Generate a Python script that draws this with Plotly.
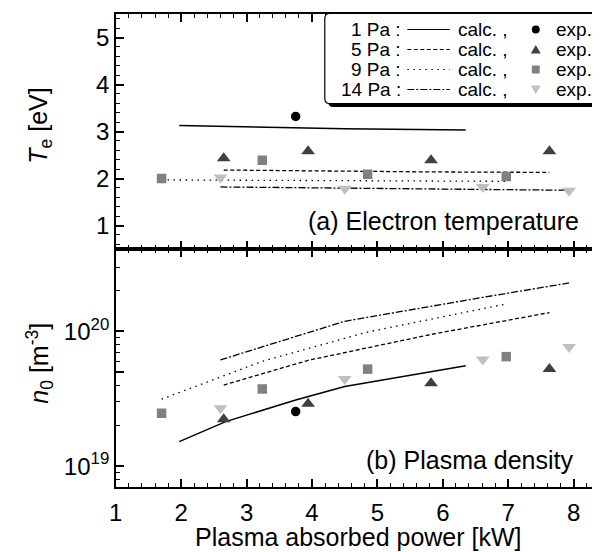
import plotly.graph_objects as go

# ---------------- data ----------------
P_1pa_exp = [3.75]
Te_1pa_exp = [3.32]
n_1pa_exp = [2.54e19]

P_5pa_exp = [2.65, 3.94, 5.82, 7.63]
Te_5pa_exp = [2.43, 2.58, 2.39, 2.58]
n_5pa_exp = [2.23e19, 2.90e19, 4.13e19, 5.25e19]

P_9pa_exp = [1.70, 3.24, 4.85, 6.97]
Te_9pa_exp = [2.00, 2.39, 2.09, 2.04]
n_9pa_exp = [2.47e19, 3.74e19, 5.25e19, 6.50e19]

P_14pa_exp = [2.60, 4.50, 6.61, 7.93]
Te_14pa_exp = [2.02, 1.78, 1.82, 1.74]
n_14pa_exp = [2.69e19, 4.43e19, 6.20e19, 7.66e19]

P_1pa_calc = [1.97, 2.68, 3.75, 4.50, 6.35]
Te_1pa_calc = [3.13, 3.11, 3.08, 3.06, 3.03]
n_1pa_calc = [1.52e19, 2.14e19, 3.10e19, 3.90e19, 5.56e19]

P_5pa_calc = [2.65, 3.94, 5.82, 7.63]
Te_5pa_calc = [2.18, 2.16, 2.14, 2.13]
n_5pa_calc = [4.0e19, 6.1e19, 9.5e19, 1.38e20]

P_9pa_calc = [1.70, 3.24, 4.85, 6.97]
Te_9pa_calc = [1.97, 1.96, 1.95, 1.94]
n_9pa_calc = [3.14e19, 6.0e19, 9.9e19, 1.60e20]

P_14pa_calc = [2.60, 4.50, 6.61, 7.93]
Te_14pa_calc = [1.82, 1.79, 1.77, 1.75]
n_14pa_calc = [6.15e19, 1.19e20, 1.79e20, 2.29e20]

pressures = ["1 Pa :", "5 Pa :", "9 Pa :", "14 Pa :"]
x_ticks = [1, 2, 3, 4, 5, 6, 7, 8]
te_ticks = [1, 2, 3, 4, 5]
n_ticks = [1e19, 1e20]
n_ticktext = ["10<sup>19</sup>", "10<sup>20</sup>"]
n_mid_tick = [5e19]
n_minor = [8e18, 9e18, 2e19, 3e19, 4e19, 6e19, 7e19, 8e19, 9e19, 2e20, 3e20, 4e20]

# ---------------- styling ----------------
# the page body has an 8px margin, so the figure is sized to end at the window edge
OFF = 8
W, H = 600 - OFF, 552 - OFF
FONT = "Liberation Sans, Arial, sans-serif"
BIG = 25
TICK = 24
LEG = 19

def fx(px):
    return (px - OFF) / W

def fy(py):
    return 1 - (py - OFF) / H

X0, X1 = 110, 600
Y_TOP, Y_MID, Y_BOT = 14, 249, 487

calc_styles = [
    dict(color="black", width=1.5, dash="solid"),
    dict(color="black", width=1.3, dash="4px,2.5px"),
    dict(color="black", width=1.3, dash="1.5px,4.5px"),
    dict(color="black", width=1.3, dash="7px,2px,2px,2px"),
]
exp_markers = [
    dict(symbol="circle", size=9.5, color="black"),
    dict(symbol="triangle-up", size=12, color="#404040"),
    dict(symbol="square", size=9.5, color="#808080"),
    dict(symbol="triangle-down", size=12, color="#c0c0c0"),
]

calc_sets = [
    (P_1pa_calc, Te_1pa_calc, n_1pa_calc),
    (P_5pa_calc, Te_5pa_calc, n_5pa_calc),
    (P_9pa_calc, Te_9pa_calc, n_9pa_calc),
    (P_14pa_calc, Te_14pa_calc, n_14pa_calc),
]
exp_sets = [
    (P_1pa_exp, Te_1pa_exp, n_1pa_exp),
    (P_5pa_exp, Te_5pa_exp, n_5pa_exp),
    (P_9pa_exp, Te_9pa_exp, n_9pa_exp),
    (P_14pa_exp, Te_14pa_exp, n_14pa_exp),
]

fig = go.Figure()
for (p, te, n), st in zip(calc_sets, calc_styles):
    fig.add_trace(go.Scatter(x=p, y=te, mode="lines", line=st, xaxis="x", yaxis="y",
                             showlegend=False, hoverinfo="skip"))
    fig.add_trace(go.Scatter(x=p, y=n, mode="lines", line=st, xaxis="x2", yaxis="y2",
                             showlegend=False, hoverinfo="skip"))
for (p, te, n), mk in zip(exp_sets, exp_markers):
    m = dict(symbol=mk["symbol"], size=mk["size"], color=mk["color"], line=dict(width=0))
    fig.add_trace(go.Scatter(x=p, y=te, mode="markers", marker=m, xaxis="x", yaxis="y",
                             showlegend=False))
    fig.add_trace(go.Scatter(x=p, y=n, mode="markers", marker=m, xaxis="x2", yaxis="y2",
                             showlegend=False))
# helper traces so the extra tick-only axes are drawn
fig.add_trace(go.Scatter(x=[None], y=[None], xaxis="x", yaxis="y3", showlegend=False))
fig.add_trace(go.Scatter(x=[None], y=[None], xaxis="x2", yaxis="y4", showlegend=False))
fig.add_trace(go.Scatter(x=[None], y=[None], xaxis="x2", yaxis="y5", showlegend=False))

x_range = [1, 1 + (X1 - X0) / 66.19]
n_range = [18.845, 20.612]
dom_x = [fx(X0), fx(X1)]
dom_top = [fy(Y_MID), fy(Y_TOP)]
dom_bot = [fy(Y_BOT), fy(Y_MID)]

axis_common = dict(showline=True, linecolor="black", linewidth=1.5, ticks="inside",
                   ticklen=8, tickwidth=1.5, tickcolor="black", showgrid=False,
                   zeroline=False, tickfont=dict(family=FONT, size=TICK, color="black"))
minor_x = dict(dtick=0.2, ticks="inside", ticklen=4, tickwidth=1.2, tickcolor="black", showgrid=False)

fig.update_layout(
    width=W, height=H,
    margin=dict(l=0, r=0, t=0, b=0),
    paper_bgcolor="white", plot_bgcolor="white",
    font=dict(family=FONT, color="black"),
    xaxis=dict(domain=dom_x, anchor="y", range=x_range, tickvals=x_ticks, showticklabels=False,
               mirror="ticks", minor=minor_x, **axis_common),
    xaxis2=dict(domain=dom_x, anchor="y2", range=x_range, tickvals=x_ticks, mirror="ticks",
                minor=minor_x, ticklabelstandoff=3, **axis_common),
    yaxis=dict(domain=dom_top, anchor="x", range=[0.5, 5.5], tickvals=te_ticks,
               minor=dict(dtick=0.2, ticks="inside", ticklen=4, tickwidth=1.2, tickcolor="black"),
               **axis_common),
    yaxis2=dict(domain=dom_bot, anchor="x2", type="log", range=n_range,
                tickvals=n_ticks, ticktext=n_ticktext,
                minor=dict(tickvals=n_minor, ticks="inside", ticklen=4, tickwidth=1.2, tickcolor="black"),
                **axis_common),
    yaxis3=dict(overlaying="y", side="right", anchor="x", range=[0.5, 5.5], tickvals=te_ticks,
                showticklabels=False, **axis_common),
    yaxis4=dict(overlaying="y2", side="right", anchor="x2", type="log", range=n_range,
                tickvals=n_ticks + n_mid_tick, showticklabels=False, **axis_common),
    yaxis5=dict(overlaying="y2", side="left", anchor="x2", type="log", range=n_range,
                tickvals=n_mid_tick, showticklabels=False, **axis_common),
)

annotations = []
# axis titles
annotations.append(dict(text="Plasma absorbed power [kW]", x=fx(356), y=fy(537), xref="paper", yref="paper",
                        showarrow=False, xanchor="center", yanchor="middle", font=dict(size=BIG)))
annotations.append(dict(text="<i>T</i><sub>e</sub> [eV]", x=fx(33), y=fy(126), xref="paper", yref="paper",
                        showarrow=False, textangle=-90, xanchor="center", yanchor="middle", font=dict(size=BIG)))
annotations.append(dict(text="<i>n</i><sub>0</sub> [m<sup>-3</sup>]", x=fx(33), y=fy(363), xref="paper",
                        yref="paper", showarrow=False, textangle=-90, xanchor="center", yanchor="middle",
                        font=dict(size=BIG)))
# panel labels
annotations.append(dict(text="(a) Electron temperature", x=fx(581), y=fy(221), xref="paper", yref="paper",
                        showarrow=False, xanchor="right", yanchor="middle", font=dict(size=BIG)))
annotations.append(dict(text="(b) Plasma density", x=fx(576), y=fy(460), xref="paper", yref="paper",
                        showarrow=False, xanchor="right", yanchor="middle", font=dict(size=BIG)))

# ---------------- custom legend ----------------
shapes = []
BX0, BY0, BX1, BY1, R = 321.5, 13.5, 599.3, 103.5, 5

def rrect(x0, y0, x1, y1, r):
    def p(a, b):
        return f"{fx(a):.5f},{fy(b):.5f}"
    return (f"M {p(x0 + r, y0)} L {p(x1 - r, y0)} Q {p(x1, y0)} {p(x1, y0 + r)} "
            f"L {p(x1, y1 - r)} Q {p(x1, y1)} {p(x1 - r, y1)} L {p(x0 + r, y1)} "
            f"Q {p(x0, y1)} {p(x0, y1 - r)} L {p(x0, y0 + r)} Q {p(x0, y0)} {p(x0 + r, y0)} Z")

shapes.append(dict(type="path", xref="paper", yref="paper", path=rrect(BX0 + 3.5, BY0 + 3.5, BX1 + 3.5, BY1 + 3.5, R),
                   fillcolor="black", line=dict(width=0), layer="above"))
shapes.append(dict(type="path", xref="paper", yref="paper", path=rrect(BX0, BY0, BX1, BY1, R),
                   fillcolor="white", line=dict(color="black", width=1.2), layer="above"))

row_y = [29.5, 49.5, 69.5, 89.5]
for i, lab in enumerate(pressures):
    cy = row_y[i]
    annotations.append(dict(text=lab, x=fx(401), y=fy(cy), xref="paper", yref="paper", showarrow=False,
                            xanchor="right", yanchor="middle", font=dict(size=LEG)))
    st = calc_styles[i]
    shapes.append(dict(type="line", xref="paper", yref="paper", x0=fx(405), x1=fx(448), y0=fy(cy), y1=fy(cy),
                       line=dict(color="black", width=1.2, dash=st["dash"]), layer="above"))
    annotations.append(dict(text="calc. ,", x=fx(454), y=fy(cy), xref="paper", yref="paper", showarrow=False,
                            xanchor="left", yanchor="middle", font=dict(size=LEG)))
    annotations.append(dict(text="exp.", x=fx(553), y=fy(cy), xref="paper", yref="paper", showarrow=False,
                            xanchor="left", yanchor="middle", font=dict(size=LEG)))
    mx = 535
    col = exp_markers[i]["color"]
    sym = exp_markers[i]["symbol"]
    if sym == "circle":
        shapes.append(dict(type="circle", xref="paper", yref="paper", x0=fx(mx - 4), x1=fx(mx + 4),
                           y0=fy(cy - 4), y1=fy(cy + 4), fillcolor=col, line=dict(width=0), layer="above"))
    elif sym == "square":
        shapes.append(dict(type="rect", xref="paper", yref="paper", x0=fx(mx - 4), x1=fx(mx + 4),
                           y0=fy(cy - 4), y1=fy(cy + 4), fillcolor=col, line=dict(width=0), layer="above"))
    elif sym == "triangle-up":
        path = (f"M {fx(mx - 5):.5f},{fy(cy + 4):.5f} L {fx(mx + 5):.5f},{fy(cy + 4):.5f} "
                f"L {fx(mx):.5f},{fy(cy - 4.5):.5f} Z")
        shapes.append(dict(type="path", xref="paper", yref="paper", path=path, fillcolor=col,
                           line=dict(width=0), layer="above"))
    else:
        path = (f"M {fx(mx - 5):.5f},{fy(cy - 4):.5f} L {fx(mx + 5):.5f},{fy(cy - 4):.5f} "
                f"L {fx(mx):.5f},{fy(cy + 4.5):.5f} Z")
        shapes.append(dict(type="path", xref="paper", yref="paper", path=path, fillcolor=col,
                           line=dict(width=0), layer="above"))

fig.update_layout(annotations=annotations, shapes=shapes)
fig.write_html("out.html")
